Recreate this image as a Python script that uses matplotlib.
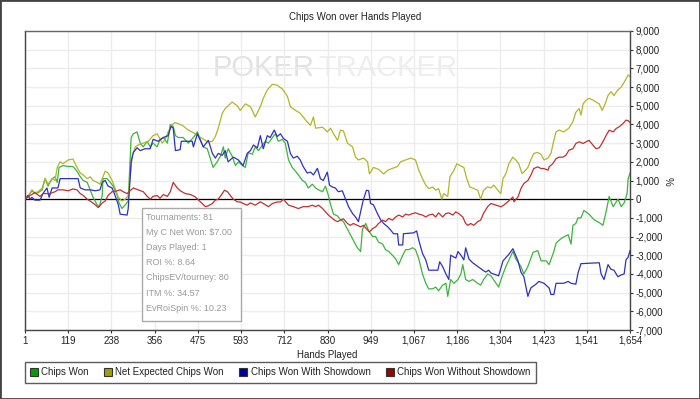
import matplotlib
matplotlib.use("Agg")
import matplotlib.pyplot as plt
import numpy as np
from matplotlib.patches import Rectangle
from matplotlib.lines import Line2D
from matplotlib.ticker import FuncFormatter, FixedLocator, MultipleLocator

plt.rcParams['font.family'] = ['Liberation Sans', 'DejaVu Sans']
plt.rcParams['axes.unicode_minus'] = False

# ---------------- data ----------------
title = "Chips Won over Hands Played"
x_label = "Hands Played"
y_label = "%"
series_names = ["Chips Won", "Net Expected Chips Won", "Chips Won With Showdown", "Chips Won Without Showdown"]
x_tick_labels = ["1", "119", "238", "356", "475", "593", "712", "830", "949",
                 "1,067", "1,186", "1,304", "1,423", "1,541", "1,654"]
tooltip_lines = ["Tournaments: 81", "My C Net Won: $7.00", "Days Played: 1", "ROI %: 8.64",
                 "ChipsEV/tourney: 80", "ITM %: 34.57", "EvRoiSpin %: 10.23"]

green_hands = [1, 9, 20, 28, 37, 48, 56, 64, 75, 83, 89, 94, 105, 119, 132, 143, 152, 160, 171, 179,
               187, 198, 204, 212, 214, 225, 234, 242, 253, 258, 266, 275, 283, 291, 297, 307, 316, 324,
               335, 343, 351, 362, 370, 379, 390, 398, 406, 412, 420, 433, 447, 461, 472, 480, 488, 499,
               507, 515, 526, 535, 543, 548, 556, 567, 576, 584, 595, 603, 611, 622, 630, 639, 650, 658,
               666, 677, 685, 693, 704, 712, 721, 731, 740, 748, 759, 767, 775, 786, 795, 803, 814, 822,
               830, 836, 844, 855, 863, 871, 882, 890, 898, 909, 918, 923, 932, 940, 951, 959, 967, 978,
               986, 995, 1005, 1014, 1022, 1033, 1041, 1049, 1060, 1068, 1077, 1087, 1096, 1104, 1115,
               1123, 1131, 1142, 1151, 1156, 1164, 1173, 1184, 1192, 1197, 1205, 1214, 1224, 1238, 1246,
               1254, 1265, 1274, 1295, 1307, 1315, 1334, 1342, 1356, 1364, 1375, 1389, 1402, 1411, 1425,
               1433, 1446, 1452, 1466, 1485, 1493, 1498, 1506, 1512, 1520, 1528, 1542, 1556, 1570, 1580,
               1589, 1597, 1608, 1621, 1630, 1638, 1646, 1649, 1654]
green_vals = [0, 150, 450, 300, 350, 500, 1100, 700, 1100, 1200, 900, 1700, 1800, 1750, 1750, 1500,
              1200, 1000, 900, 500, 100, -300, -400, 200, 1100, 1100, 900, 700, 200, -200, -500, -300,
              -100, 3300, 3500, 3600, 3000, 2800, 3100, 2800, 3000, 2800, 3200, 3300, 3000, 4000, 3900,
              3400, 3300, 3300, 3000, 3300, 3600, 3200, 2800, 2700, 2200, 1700, 2000, 2300, 2800, 2200,
              2700, 2300, 1800, 2000, 1800, 1700, 2500, 2400, 2800, 2600, 2900, 3100, 3000, 3300, 3500,
              3100, 3200, 3000, 2100, 1700, 1500, 1300, 1000, 900, 600, 800, 600, 500, 400, 700, 200,
              -300, -800, -900, -1100, -1200, -1600, -1900, -2200, -2600, -2800, -1600, -1300, -1700,
              -2000, -2000, -2300, -2400, -2700, -2800, -3000, -3200, -3500, -3000, -2700, -2700, -2600,
              -2700, -3200, -4000, -4500, -4800, -4800, -4700, -4900, -4600, -4500, -5200, -4300, -4500,
              -4300, -4000, -3500, -4300, -4400, -4300, -4500, -4600, -4300, -4000, -4100, -4700, -4000,
              -3600, -2800, -3200, -3600, -4000, -3600, -2850, -2750, -3300, -3300, -3500, -2800, -2350,
              -2100, -1900, -2400, -1400, -1300, -1000, -1000, -600, -800, -1100, -1250, -1400, -650, 150,
              -400, 0, -400, -200, 300, 1100, 1400]

olive_hands = [1, 9, 20, 28, 37, 48, 56, 64, 75, 83, 89, 97, 105, 119, 132, 138, 143, 152, 160, 171,
               179, 187, 198, 206, 220, 228, 239, 247, 256, 266, 275, 283, 294, 302, 310, 324, 338, 351,
               362, 376, 384, 392, 403, 412, 431, 447, 466, 485, 502, 513, 521, 529, 540, 548, 567, 581,
               589, 603, 617, 630, 644, 652, 663, 677, 690, 704, 718, 726, 740, 753, 767, 781, 789, 795,
               814, 827, 836, 844, 855, 863, 871, 882, 896, 904, 912, 926, 937, 942, 953, 967, 981, 992,
               1005, 1019, 1027, 1041, 1055, 1068, 1077, 1087, 1096, 1104, 1115, 1123, 1131, 1140, 1145,
               1156, 1162, 1173, 1181, 1189, 1200, 1208, 1216, 1227, 1238, 1246, 1254, 1265, 1274, 1282,
               1293, 1301, 1307, 1315, 1323, 1334, 1342, 1350, 1359, 1364, 1375, 1383, 1391, 1402, 1411,
               1419, 1430, 1438, 1446, 1452, 1460, 1473, 1487, 1498, 1506, 1515, 1520, 1526, 1534, 1542,
               1553, 1561, 1570, 1578, 1586, 1594, 1602, 1610, 1621, 1630, 1638, 1649, 1654]
olive_vals = [0, 150, 500, 350, 400, 600, 1100, 800, 1100, 1000, 1700, 2000, 1900, 2100, 2150, 1900,
              1700, 1400, 1300, 1100, 1200, 1000, 900, 800, 1500, 1400, 1000, 600, 100, -100, 0, 200, 2300,
              2800, 2900, 3000, 3100, 3400, 3500, 3000, 3200, 3600, 4000, 4100, 3950, 3700, 3500, 3250,
              3050, 3100, 3350, 3800, 4600, 4850, 5200, 5000, 4750, 5100, 4950, 4400, 4950, 5400, 5850,
              6150, 6100, 5900, 5500, 4950, 4750, 4600, 4250, 3950, 4400, 3800, 3850, 3600, 3800, 3500,
              3150, 3700, 3650, 3000, 2800, 2250, 2100, 2200, 2000, 1350, 1700, 1600, 1350, 1550, 1650,
              1750, 2000, 2100, 2200, 2100, 1550, 1100, 750, 570, 650, 480, 570, 0, 300, 150, 1200, 1550,
              1900, 1800, 1700, 1100, 660, 570, 480, 0, 480, 660, 600, 750, 480, 300, 1100, 1370, 1900,
              2250, 2100, 1900, 1370, 1450, 1700, 2100, 2450, 2500, 2400, 2100, 2200, 2450, 3150, 3600,
              3700, 3600, 3800, 4150, 4650, 4850, 4500, 5100, 5300, 5400, 5300, 5200, 5100, 4750, 5100,
              5550, 5750, 5550, 5850, 6000, 6250, 6650, 6550]

blue_hands = [1, 9, 15, 20, 28, 42, 50, 61, 67, 75, 91, 97, 146, 152, 165, 179, 193, 206, 212, 220,
              228, 239, 247, 256, 261, 280, 283, 291, 297, 307, 316, 329, 343, 351, 365, 379, 392, 400,
              406, 412, 425, 428, 458, 461, 472, 480, 488, 502, 513, 521, 529, 540, 548, 556, 570, 584,
              597, 608, 617, 625, 636, 644, 652, 663, 671, 682, 690, 699, 707, 718, 726, 734, 745, 753,
              761, 772, 781, 789, 800, 808, 816, 827, 833, 841, 849, 857, 868, 877, 885, 896, 904, 912,
              923, 926, 934, 940, 945, 953, 964, 973, 981, 992, 1000, 1008, 1019, 1022, 1033, 1035, 1063,
              1071, 1077, 1087, 1096, 1104, 1129, 1134, 1142, 1151, 1159, 1164, 1178, 1184, 1192, 1200,
              1205, 1214, 1224, 1238, 1252, 1260, 1268, 1274, 1295, 1307, 1323, 1334, 1348, 1356, 1364,
              1375, 1383, 1397, 1405, 1419, 1433, 1438, 1446, 1452, 1473, 1485, 1493, 1506, 1512, 1520,
              1570, 1575, 1583, 1594, 1602, 1610, 1621, 1630, 1638, 1643, 1649, 1654]
blue_vals = [0, 200, 0, 100, -50, -50, 300, 600, 100, 600, 600, 1100, 1100, 600, 500, 500, 450, 500,
             900, 1000, 700, 600, 200, -300, -800, -850, -500, 2000, 2500, 2750, 2600, 2700, 2700, 3200,
             3100, 3300, 3400, 3900, 3800, 2600, 2650, 3100, 3100, 2800, 3500, 3150, 2800, 3150, 2450,
             2200, 2450, 2350, 2600, 2000, 2250, 2100, 1800, 2450, 2600, 2900, 2750, 3400, 2700, 3400,
             3300, 3700, 3350, 3500, 3250, 3100, 2450, 2200, 2300, 2100, 1750, 1400, 1450, 1300, 1650,
             1100, 1000, 1450, 750, 650, 600, 400, 450, 0, -400, -770, -950, -1200, -230, 0, 480, 450,
             -230, -300, -770, -1120, -1300, -1480, -1650, -1850, -1850, -2450, -2450, -1850, -1800,
             -1700, -2200, -2900, -3250, -3800, -3800, -3350, -3600, -4000, -4300, -3000, -3150, -2800,
             -3000, -3250, -2600, -3200, -3400, -3600, -3800, -3900, -3800, -3950, -4100, -3300, -2950,
             -2650, -3300, -3900, -4150, -5200, -4750, -4550, -4400, -4500, -4750, -5100, -5100, -4500,
             -4500, -4400, -4500, -4550, -3950, -3450, -3400, -4000, -4300, -3500, -3750, -3800, -4150,
             -4050, -4000, -3250, -3100, -2750]

red_hands = [1, 15, 28, 42, 50, 69, 83, 91, 105, 119, 132, 143, 152, 160, 171, 179, 193, 201, 212,
             220, 228, 239, 253, 261, 269, 280, 288, 297, 310, 324, 335, 343, 351, 362, 370, 379, 390,
             398, 406, 417, 425, 439, 453, 466, 480, 494, 502, 513, 521, 529, 540, 546, 554, 562, 570,
             581, 589, 597, 608, 617, 630, 644, 652, 666, 677, 690, 699, 707, 721, 734, 748, 761, 775,
             786, 795, 803, 814, 822, 830, 841, 849, 855, 863, 871, 882, 890, 898, 909, 918, 926, 937,
             942, 951, 959, 967, 978, 986, 995, 1005, 1014, 1022, 1033, 1041, 1049, 1060, 1068, 1077,
             1087, 1096, 1104, 1115, 1123, 1131, 1142, 1151, 1159, 1170, 1178, 1186, 1197, 1205, 1211,
             1219, 1227, 1238, 1246, 1254, 1265, 1274, 1282, 1293, 1301, 1309, 1320, 1328, 1334, 1337,
             1348, 1356, 1364, 1375, 1383, 1391, 1402, 1411, 1419, 1430, 1433, 1443, 1452, 1460, 1471,
             1479, 1487, 1498, 1506, 1515, 1526, 1534, 1542, 1553, 1561, 1570, 1580, 1589, 1597, 1608,
             1616, 1624, 1635, 1643, 1649, 1654]
red_vals = [0, 200, 350, 150, 300, 300, 400, 500, 500, 450, 550, 500, 300, 200, 0, -100, -300, -450,
            -200, -100, 200, 400, 450, 500, 400, 300, 450, 600, 500, 400, 150, 0, 150, 200, 50, 250, 150,
            400, 900, 600, 450, 300, 250, 125, -140, -400, -350, -230, -50, 0, 300, 480, 400, 200, 0,
            -140, -150, -230, -320, -200, -320, -140, -230, -400, -230, -150, -150, 0, -320, -400, -500,
            -400, -400, -320, -400, -320, -500, -680, -850, -1030, -1150, -1200, -1120, -1050, -1300,
            -1400, -1300, -1400, -1480, -1400, -1650, -1750, -1570, -1480, -1300, -1120, -1200, -1030,
            -1120, -950, -850, -950, -800, -850, -770, -730, -800, -850, -950, -850, -800, -950, -730,
            -950, -770, -730, -850, -680, -770, -950, -1300, -1400, -1300, -1400, -1200, -1120, -750,
            -400, -230, -280, -350, -410, -320, -140, 0, 120, -140, 120, 570, 840, 1000, 1280, 1640,
            1730, 1640, 1640, 1550, 1730, 1900, 2170, 2250, 2250, 2350, 2620, 2700, 2980, 3070, 2980,
            3070, 3150, 2890, 2700, 2750, 3070, 3420, 3690, 3600, 3780, 3870, 4050, 4230, 4200, 4100]

line_colors = ["#3cb43c", "#b4b428", "#3030c0", "#c03030"]
legend_colors = ["#00a000", "#a0a000", "#0000a0", "#a00000"]

# ---------------- layout ----------------
W, H = 700, 399
fig = plt.figure(figsize=(W / 100, H / 100), dpi=100)
fig.patch.set_facecolor("white")


def fx(x):
    return x / W


def fy(y):
    return 1 - y / H


ax = fig.add_axes([fx(25), fy(330), fx(630) - fx(25), fy(31) - fy(330)])
ax.set_facecolor("white")

# watermark
fig.text(fx(213), fy(68), "POKER", fontsize=21, color="#e2e2e2", va="center", ha="left", zorder=0.5)
fig.text(fx(318), fy(68), "TRACKER", fontsize=21, color="#eeeeee", va="center", ha="left", zorder=0.5)
ax.set_zorder(1)
ax.patch.set_alpha(0)

ax.set_xlim(1, 1654)
ax.set_ylim(-7000, 9000)
xt = np.linspace(1, 1654, len(x_tick_labels))
ax.xaxis.set_major_locator(FixedLocator(xt))
ax.set_xticklabels(x_tick_labels)
ax.yaxis.set_major_locator(MultipleLocator(1000))
ax.yaxis.set_major_formatter(FuncFormatter(lambda v, p: f"{v:,.0f}"))
ax.yaxis.tick_right()
ax.grid(True, color="#ececec", linewidth=1.0, zorder=0)
ax.set_axisbelow(True)

ax.tick_params(axis="both", labelsize=7, colors="#333333", length=2.5, width=0.8, pad=1.5)
ax.tick_params(axis="y", labelcolor="#222222")
ax.tick_params(axis="x", labelcolor="#222222")
for side in ["left", "bottom", "right"]:
    ax.spines[side].set_color("#444444")
    ax.spines[side].set_linewidth(1.0)
ax.spines["top"].set_color("#666666")
ax.spines["top"].set_linewidth(1.0)

ax.axhline(0, color="black", linewidth=0.9, zorder=2)

all_hands = [green_hands, olive_hands, blue_hands, red_hands]
all_vals = [green_vals, olive_vals, blue_vals, red_vals]
for h, v, c in zip(all_hands, all_vals, line_colors):
    ax.plot(h, v, color=c, linewidth=0.9, zorder=3)

ax.set_xlabel(x_label, fontsize=7, color="#222222", labelpad=3)
fig.text(fx(668), fy(181), y_label, fontsize=7, rotation=270, ha="center", va="center", color="#222222")
fig.text(fx(355), fy(17), title, fontsize=7, ha="center", va="center", color="#222222")

# tooltip box
fig.patches.append(Rectangle((fx(142), fy(321)), fx(241) - fx(142), fy(208) - fy(321),
                             transform=fig.transFigure, facecolor="white", edgecolor="#aaaaaa",
                             linewidth=1.0, zorder=5))
for i, t in enumerate(tooltip_lines):
    fig.text(fx(146), fy(217 + 15.2 * i), t, fontsize=6.5, color="#9a9a9a", ha="left", va="center", zorder=6)

# legend
handles = [Line2D([], [], linestyle="none", marker="s", markersize=6, markerfacecolor=c,
                  markeredgecolor="#333333", markeredgewidth=0.8) for c in legend_colors]
leg = fig.legend(handles, series_names, loc="upper left", bbox_to_anchor=(fx(25), fy(362)),
                 ncol=4, fontsize=7, frameon=True, fancybox=False, shadow=False,
                 handlelength=0.7, handletextpad=0.4, columnspacing=1.65, borderpad=0.55,
                 borderaxespad=0)
leg.get_frame().set_edgecolor("#333333")
leg.get_frame().set_linewidth(1.0)
for t in leg.get_texts():
    t.set_color("#222222")

# outer border
fig.patches.append(Rectangle((0, 0), 1, 1, transform=fig.transFigure, facecolor="none",
                             edgecolor="#444444", linewidth=2.0, zorder=10))

fig.savefig("out.png", dpi=100)
